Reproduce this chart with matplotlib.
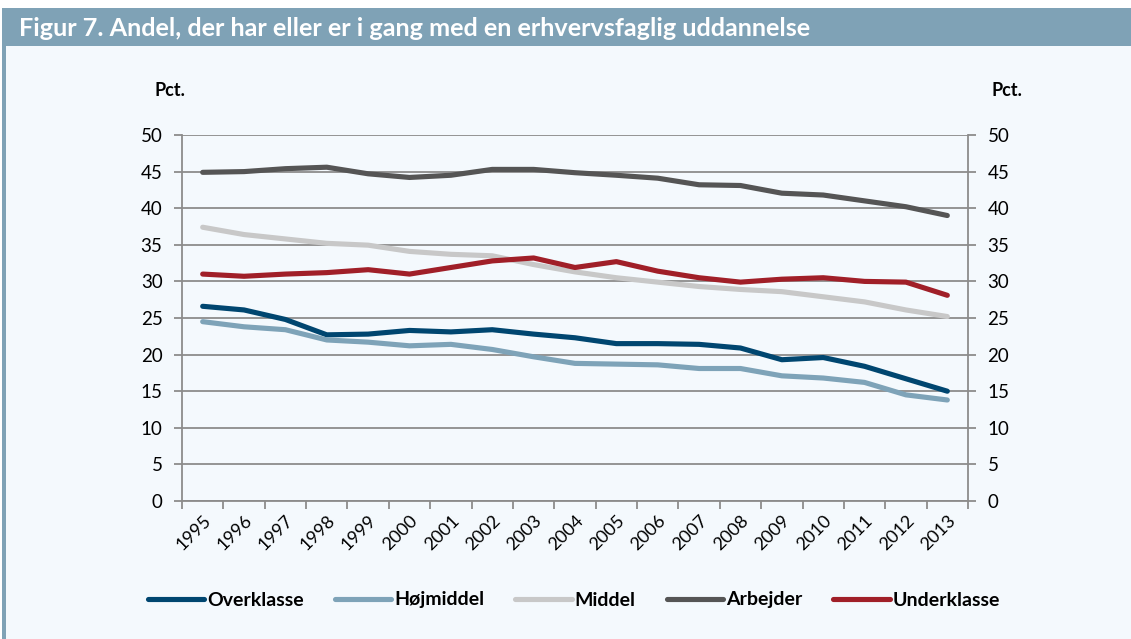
import matplotlib.pyplot as plt
from matplotlib.patches import Rectangle

# data (pct.)
years = [str(y) for y in range(1995, 2014)]
overklasse = [26.6, 26.1, 24.8, 22.7, 22.8, 23.3, 23.1, 23.4, 22.8, 22.3,
              21.5, 21.5, 21.4, 20.9, 19.3, 19.6, 18.4, 16.7, 15.0]
hojmiddel = [24.5, 23.8, 23.4, 22.0, 21.7, 21.2, 21.4, 20.7, 19.7, 18.8,
             18.7, 18.6, 18.1, 18.1, 17.1, 16.8, 16.2, 14.5, 13.8]
middel = [37.4, 36.4, 35.8, 35.2, 34.95, 34.1, 33.7, 33.5, 32.3, 31.3,
          30.5, 29.9, 29.3, 28.9, 28.6, 27.9, 27.2, 26.1, 25.2]
arbejder = [44.9, 45.0, 45.4, 45.6, 44.7, 44.2, 44.5, 45.3, 45.3, 44.85,
            44.5, 44.1, 43.2, 43.1, 42.05, 41.8, 41.0, 40.2, 39.0]
underklasse = [31.0, 30.7, 31.0, 31.2, 31.6, 31.0, 31.9, 32.8, 33.2, 31.9,
               32.7, 31.4, 30.5, 29.9, 30.3, 30.5, 30.0, 29.9, 28.1]

series = [("Overklasse", overklasse, "#004670"),
          ("Højmiddel", hojmiddel, "#7ea3b8"),
          ("Middel", middel, "#c8c8c8"),
          ("Arbejder", arbejder, "#555555"),
          ("Underklasse", underklasse, "#a01f28")]

bar_col = "#7fa2b6"
bg = "#f4f9fd"
grid_col = "#8c8c8c"

plt.rcParams['font.family'] = ['Lato', 'DejaVu Sans']

W, H = 1131, 639
fig = plt.figure(figsize=(W / 100, H / 100), dpi=100)
fig.patch.set_facecolor("white")

# panel background, title bar and left border
fig.patches.append(Rectangle((2 / W, 0), 1 - 2 / W, 1 - 46 / H, transform=fig.transFigure,
                             facecolor=bg, edgecolor="none", zorder=-3))
fig.patches.append(Rectangle((2 / W, 1 - 46 / H), 1 - 2 / W, 38 / H, transform=fig.transFigure,
                             facecolor=bar_col, edgecolor="none", zorder=-2))
fig.patches.append(Rectangle((2 / W, 0), 4 / W, 1 - 8 / H, transform=fig.transFigure,
                             facecolor=bar_col, edgecolor="none", zorder=-2))
fig.text(19 / W, 1 - 29 / H, "Figur 7. Andel, der har eller er i gang med en erhvervsfaglig uddannelse",
         color="white", fontsize=18.2, fontweight="bold", va="center", ha="left")

# plot area: x 182..968, y 135..501
ax = fig.add_axes([182 / W, 1 - 501 / H, (968 - 182) / W, (501 - 135) / H])
ax.set_facecolor(bg)
x = list(range(len(years)))
for name, vals, col in series:
    ax.plot(x, vals, color=col, lw=3.7, label=name, solid_capstyle="round", zorder=3)

ax.set_xlim(-0.5, len(years) - 0.5)
ax.set_ylim(0, 50)
ax.set_yticks(range(0, 51, 5))
ax.yaxis.grid(True, color=grid_col, lw=1.3)
ax.set_axisbelow(True)
ax.tick_params(axis="y", which="both", length=6, width=1.3, color=grid_col,
               labelsize=13.5, pad=8, left=True, right=True, labelleft=True, labelright=True)

# category ticks between points, labels at the points
ax.set_xticks([i - 0.5 for i in range(len(years) + 1)])
ax.set_xticklabels([])
ax.set_xticks(x, minor=True)
ax.set_xticklabels(years, minor=True, rotation=45, ha="right", rotation_mode="anchor", fontsize=13)
ax.tick_params(axis="x", which="major", length=6, width=1.3, color=grid_col)
ax.tick_params(axis="x", which="minor", length=0, pad=8)

for s in ["left", "right", "bottom"]:
    ax.spines[s].set_color(grid_col)
    ax.spines[s].set_linewidth(1.3)
ax.spines["top"].set_visible(False)

fig.text(170 / W, 1 - 90 / H, "Pct.", fontsize=13, fontweight="bold", ha="center", va="center")
fig.text(1007 / W, 1 - 90 / H, "Pct.", fontsize=13, fontweight="bold", ha="center", va="center")

leg = fig.legend(loc="center", bbox_to_anchor=(574 / W, 1 - 600 / H), ncol=5, frameon=False,
                 handlelength=2.9, handletextpad=0.15, columnspacing=1.6,
                 prop={"weight": "bold", "size": 14})

fig.savefig("out.png", dpi=100, facecolor=fig.get_facecolor())
